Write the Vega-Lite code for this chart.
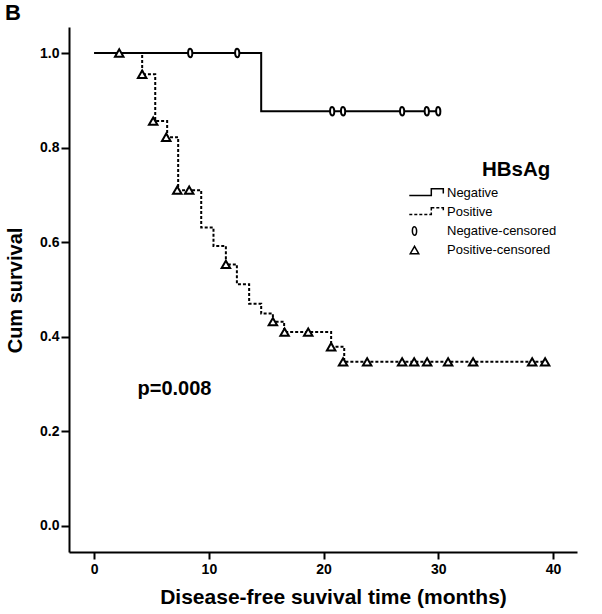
{
  "$schema": "https://vega.github.io/schema/vega-lite/v6.json",
  "width": 508,
  "height": 525,
  "autosize": {"type": "none"},
  "padding": {"left": 69, "top": 27, "right": 25, "bottom": 62},
  "background": "white",
  "view": {"stroke": null},
  "title": {"text": "B", "anchor": "start", "frame": "bounds", "font": "Liberation Sans", "fontSize": 22, "fontWeight": "bold", "color": "black", "offset": 2},
  "config": {
    "font": "Liberation Sans",
    "axis": {"domainColor": "black", "domainWidth": 2, "tickColor": "black", "tickWidth": 2, "grid": false, "labelFont": "Liberation Sans", "labelFontWeight": "bold", "labelFontSize": 14, "labelColor": "black", "titleFont": "Liberation Sans", "titleFontWeight": "bold", "titleColor": "black"}
  },
  "datasets": {
    "curves": [
      {"group": "Negative", "time": 0, "surv": 1.0},
      {"group": "Negative", "time": 14.56, "surv": 0.877},
      {"group": "Negative", "time": 30.0, "surv": 0.877},
      {"group": "Positive", "time": 0, "surv": 1.0},
      {"group": "Positive", "time": 4.18, "surv": 0.955},
      {"group": "Positive", "time": 5.32, "surv": 0.856},
      {"group": "Positive", "time": 6.36, "surv": 0.822},
      {"group": "Positive", "time": 7.32, "surv": 0.71},
      {"group": "Positive", "time": 9.33, "surv": 0.631},
      {"group": "Positive", "time": 10.4, "surv": 0.592},
      {"group": "Positive", "time": 11.48, "surv": 0.553},
      {"group": "Positive", "time": 12.44, "surv": 0.511},
      {"group": "Positive", "time": 13.51, "surv": 0.47},
      {"group": "Positive", "time": 14.56, "surv": 0.449},
      {"group": "Positive", "time": 15.58, "surv": 0.432},
      {"group": "Positive", "time": 16.56, "surv": 0.41},
      {"group": "Positive", "time": 20.66, "surv": 0.379},
      {"group": "Positive", "time": 21.8, "surv": 0.347},
      {"group": "Positive", "time": 39.32, "surv": 0.347}
    ],
    "censored": [
      {"key": "Negative-censored", "time": 8.37, "surv": 1.0},
      {"key": "Negative-censored", "time": 12.47, "surv": 1.0},
      {"key": "Negative-censored", "time": 20.75, "surv": 0.877},
      {"key": "Negative-censored", "time": 21.7, "surv": 0.877},
      {"key": "Negative-censored", "time": 26.85, "surv": 0.877},
      {"key": "Negative-censored", "time": 29.0, "surv": 0.877},
      {"key": "Negative-censored", "time": 30.0, "surv": 0.877},
      {"key": "Positive-censored", "time": 2.18, "surv": 1.0},
      {"key": "Positive-censored", "time": 4.18, "surv": 0.955},
      {"key": "Positive-censored", "time": 5.14, "surv": 0.856},
      {"key": "Positive-censored", "time": 6.28, "surv": 0.822},
      {"key": "Positive-censored", "time": 7.24, "surv": 0.71},
      {"key": "Positive-censored", "time": 8.28, "surv": 0.71},
      {"key": "Positive-censored", "time": 11.48, "surv": 0.553},
      {"key": "Positive-censored", "time": 15.58, "surv": 0.432},
      {"key": "Positive-censored", "time": 16.6, "surv": 0.41},
      {"key": "Positive-censored", "time": 18.66, "surv": 0.41},
      {"key": "Positive-censored", "time": 20.66, "surv": 0.379},
      {"key": "Positive-censored", "time": 21.7, "surv": 0.347},
      {"key": "Positive-censored", "time": 23.8, "surv": 0.347},
      {"key": "Positive-censored", "time": 26.85, "surv": 0.347},
      {"key": "Positive-censored", "time": 27.9, "surv": 0.347},
      {"key": "Positive-censored", "time": 29.03, "surv": 0.347},
      {"key": "Positive-censored", "time": 30.86, "surv": 0.347},
      {"key": "Positive-censored", "time": 33.04, "surv": 0.347},
      {"key": "Positive-censored", "time": 38.19, "surv": 0.347},
      {"key": "Positive-censored", "time": 39.32, "surv": 0.347}
    ],
    "note": [
      {"time": 7.0, "surv": 0.29, "label": "p=0.008"}
    ]
  },
  "encoding": {
    "x": {"field": "time", "type": "quantitative",
      "scale": {"domain": [-2.2, 42.1], "nice": false, "zero": false},
      "axis": {"values": [0, 10, 20, 30, 40], "tickSize": 7, "labelPadding": 3, "title": "Disease-free suvival time (months)", "titleFontSize": 21, "titleX": 264, "titleY": 51, "titleBaseline": "alphabetic", "titleAlign": "center"}},
    "y": {"field": "surv", "type": "quantitative",
      "scale": {"domain": [-0.055, 1.055], "nice": false, "zero": false},
      "axis": {"values": [0, 0.2, 0.4, 0.6, 0.8, 1.0], "format": ".1f", "tickSize": 8, "labelPadding": 2, "title": "Cum survival", "titleFontSize": 20, "titleX": -48, "titleY": 263, "titleAngle": -90, "titleBaseline": "alphabetic", "titleAlign": "center"}}
  },
  "layer": [
    {
      "data": {"name": "curves"},
      "mark": {"type": "line", "interpolate": "step-after", "color": "black", "strokeWidth": 2},
      "encoding": {
        "detail": {"field": "group"},
        "strokeDash": {"field": "group", "type": "nominal", "scale": {"domain": ["Negative", "Positive"], "range": [[1, 0], [3, 2]]}, "legend": null}
      }
    },
    {
      "data": {"name": "censored"},
      "mark": {"type": "point", "filled": false, "fill": "white", "fillOpacity": 1, "stroke": "black", "strokeWidth": 2, "size": 72, "opacity": 1},
      "encoding": {
        "shape": {"field": "key", "type": "nominal",
          "scale": {"domain": ["Negative", "Positive", "Negative-censored", "Positive-censored"],
            "range": ["M-1.23,0.57L3.96,0.57L3.96,-1L6.79,-1L6.79,0.1", "M-1.23,0.57L-0.52,0.57M-0.05,0.57L0.66,0.57M1.13,0.57L1.84,0.57M2.31,0.57L3.02,0.57M3.49,0.57L3.96,0.57L3.96,0.1M3.96,-0.37L3.96,-1L4.67,-1M5.14,-1L5.85,-1M6.32,-1L6.79,-1L6.79,-0.4", "M0,-1A0.5,1 0 1,1 0,1A0.5,1 0 1,1 0,-1Z", "triangle-up"]},
          "legend": {
            "orient": "none", "legendX": 339, "legendY": 133, "title": "HBsAg",
            "titleFont": "Liberation Sans", "titleFontSize": 20.5, "titleFontWeight": "bold", "titleColor": "black", "titleAnchor": "middle", "titleAlign": "left", "titlePadding": 6,
            "labelFont": "Liberation Sans", "labelFontSize": 13, "labelColor": "black", "labelOffset": 26,
            "symbolSize": 72, "rowPadding": 4, "padding": 0,
            "encode": {
              "symbols": {
                "fill": {"value": "white"},
                "stroke": {"value": "black"},
                "strokeWidth": {"value": 2},
                "opacity": {"value": 1},
                "size": {"value": 72}
              }
            }
          }}
      }
    },
    {
      "data": {"name": "note"},
      "mark": {"type": "text", "font": "Liberation Sans", "fontSize": 20, "fontWeight": "bold", "color": "black", "align": "center", "baseline": "middle"},
      "encoding": {"text": {"field": "label"}}
    }
  ]
}
